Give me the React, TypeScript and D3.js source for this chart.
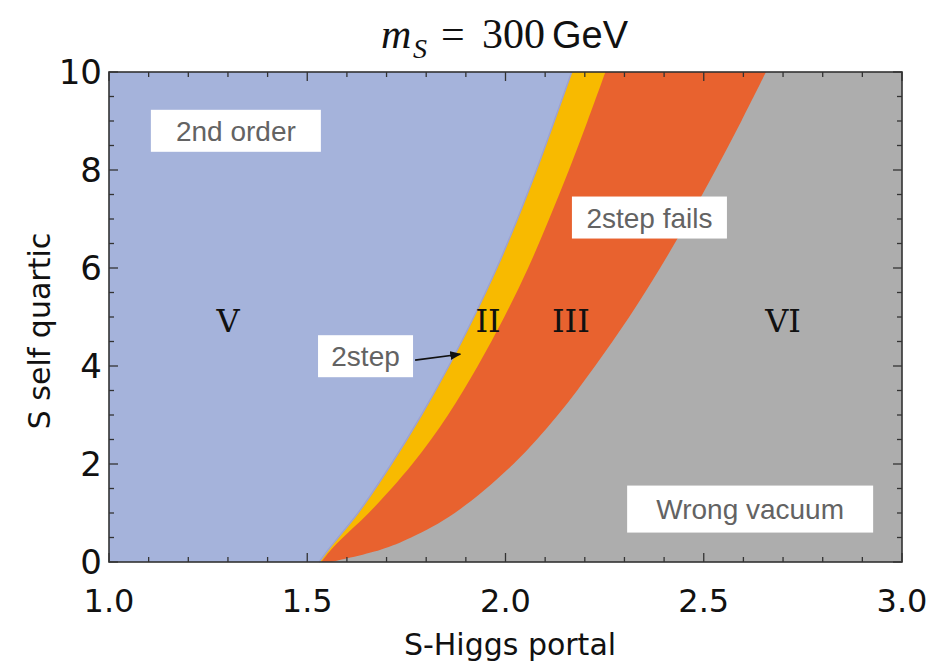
import React, { useEffect, useRef } from "react";
import * as d3 from "d3";

// phase boundaries: S-Higgs portal value where each region starts, per S self quartic value
const lambdaS = [0, 0.25, 0.5, 1, 2, 3, 4, 5, 6, 7, 8, 9, 10];
const twoStepStart = [1.53, 1.553, 1.578, 1.628, 1.712, 1.788, 1.857, 1.92, 1.978, 2.03, 2.078, 2.123, 2.167];
const twoStepFailStart = [1.535, 1.56, 1.59, 1.655, 1.765, 1.855, 1.93, 1.997, 2.057, 2.11, 2.16, 2.207, 2.252];
const wrongVacuumStart = [1.56, 1.685, 1.762, 1.872, 2.02, 2.132, 2.226, 2.312, 2.39, 2.462, 2.53, 2.595, 2.657];

const xTickLabels = [1.0, 1.5, 2.0, 2.5, 3.0];
const yTickLabels = [0, 2, 4, 6, 8, 10];

const numerals = ["V", "II", "III", "VI"];
const numeralX = [1.3, 1.956, 2.165, 2.7];
const numeralY = 4.94;

const boxTexts = ["2nd order", "2step fails", "Wrong vacuum", "2step"];
const boxX = [1.32, 2.363, 2.617, 1.647];
const boxY = [8.8, 7.03, 1.08, 4.2];
const boxW = [170, 155, 246, 95];
const boxH = [42, 42, 47, 42];

const App = () => {
  const svgRef = useRef<SVGSVGElement>(null);

  useEffect(() => {
    const margin = { top: 72, right: 33, bottom: 102, left: 109 };
    const W = 935;
    const H = 664;
    const width = W - margin.left - margin.right;
    const height = H - margin.top - margin.bottom;

    const root = d3.select(svgRef.current);
    root.selectAll("*").remove();
    root.attr("width", W).attr("height", H);

    const svg = root.append("g").attr("transform", `translate(${margin.left},${margin.top})`);

    const x = d3.scaleLinear().domain([1, 3]).range([0, width]);
    const y = d3.scaleLinear().domain([0, 10]).range([height, 0]);

    const regions = [
      { edge: wrongVacuumStart, color: "#e8622f" },
      { edge: twoStepFailStart, color: "#f8ba00" },
      { edge: twoStepStart, color: "#a5b3db" },
    ];

    svg.append("rect").attr("width", width).attr("height", height).attr("fill", "#adadad");

    const area = (edge: number[]) =>
      d3
        .area<number>()
        .y((d) => y(d))
        .x0(x(1))
        .x1((d, i) => x(edge[i]))
        .curve(d3.curveCatmullRom.alpha(0.5))(lambdaS);

    regions.forEach((r) => {
      svg.append("path").attr("d", area(r.edge)).attr("fill", r.color);
    });

    // faint edge of the 2nd order region
    svg
      .append("path")
      .attr(
        "d",
        d3
          .line<number>()
          .y((d) => y(d))
          .x((d, i) => x(twoStepStart[i]))
          .curve(d3.curveCatmullRom.alpha(0.5))(lambdaS)
      )
      .attr("fill", "none")
      .attr("stroke", "#9da2d2")
      .attr("stroke-width", 1.5);

    // ticks on all four sides
    const tickColor = "#333";
    const xt = d3.range(10, 31).map((d) => d / 10);
    xt.forEach((t, i) => {
      const len = i % 5 === 0 ? 9 : 5;
      svg.append("line").attr("x1", x(t)).attr("x2", x(t)).attr("y1", height).attr("y2", height - len).attr("stroke", tickColor).attr("stroke-width", 1.3);
      svg.append("line").attr("x1", x(t)).attr("x2", x(t)).attr("y1", 0).attr("y2", len).attr("stroke", tickColor).attr("stroke-width", 1.3);
    });
    const yt = d3.range(0, 21).map((d) => d / 2);
    yt.forEach((t, i) => {
      const len = i % 4 === 0 ? 9 : 5;
      svg.append("line").attr("y1", y(t)).attr("y2", y(t)).attr("x1", 0).attr("x2", len).attr("stroke", tickColor).attr("stroke-width", 1.3);
      svg.append("line").attr("y1", y(t)).attr("y2", y(t)).attr("x1", width).attr("x2", width - len).attr("stroke", tickColor).attr("stroke-width", 1.3);
    });

    svg
      .append("rect")
      .attr("width", width)
      .attr("height", height)
      .attr("fill", "none")
      .attr("stroke", "#333")
      .attr("stroke-width", 1.6);

    // tick labels
    svg
      .selectAll(".xl")
      .data(xTickLabels)
      .enter()
      .append("text")
      .attr("x", (d) => x(d))
      .attr("y", height + 50)
      .attr("text-anchor", "middle")
      .attr("font-family", "DejaVu Sans")
      .attr("font-size", 32)
      .attr("fill", "#111")
      .text((d) => d.toFixed(1));

    svg
      .selectAll(".yl")
      .data(yTickLabels)
      .enter()
      .append("text")
      .attr("x", -7)
      .attr("y", (d) => y(d) + 12)
      .attr("text-anchor", "end")
      .attr("font-family", "DejaVu Sans")
      .attr("font-size", 34)
      .attr("fill", "#111")
      .text((d) => d);

    // axis titles
    root
      .append("text")
      .attr("x", 510)
      .attr("y", 655)
      .attr("text-anchor", "middle")
      .attr("font-family", "DejaVu Sans")
      .attr("font-size", 30)
      .attr("fill", "#111")
      .text("S-Higgs portal");

    root
      .append("text")
      .attr("transform", "translate(50,331) rotate(-90)")
      .attr("text-anchor", "middle")
      .attr("font-family", "DejaVu Sans")
      .attr("font-size", 30)
      .attr("fill", "#111")
      .text("S self quartic");

    // title
    const title = root.append("g").attr("fill", "#111");
    title.append("text").attr("x", 381).attr("y", 48).attr("font-family", "Liberation Serif").attr("font-style", "italic").attr("font-size", 42).text("m");
    title.append("text").attr("x", 413).attr("y", 58).attr("font-family", "Liberation Serif").attr("font-style", "italic").attr("font-size", 28).text("S");
    title.append("text").attr("x", 441).attr("y", 48).attr("font-family", "Liberation Serif").attr("font-size", 42).text("=");
    title.append("text").attr("x", 482).attr("y", 48).attr("font-family", "Liberation Serif").attr("font-size", 42).text("300");
    title.append("text").attr("x", 552).attr("y", 48).attr("font-family", "Liberation Sans").attr("font-size", 38).text("GeV");

    // region numerals
    numerals.forEach((n, i) => {
      svg
        .append("text")
        .attr("x", x(numeralX[i]))
        .attr("y", y(numeralY) + 12)
        .attr("text-anchor", "middle")
        .attr("font-family", "DejaVu Serif")
        .attr("font-size", 32)
        .attr("fill", "#111")
        .text(n);
    });

    // annotation boxes
    boxTexts.forEach((t, i) => {
      const cx = x(boxX[i]);
      const cy = y(boxY[i]);
      svg
        .append("rect")
        .attr("x", cx - boxW[i] / 2)
        .attr("y", cy - boxH[i] / 2)
        .attr("width", boxW[i])
        .attr("height", boxH[i])
        .attr("fill", "#fff");
      svg
        .append("text")
        .attr("x", cx)
        .attr("y", cy + 10)
        .attr("text-anchor", "middle")
        .attr("font-family", "Liberation Sans")
        .attr("font-size", 28)
        .attr("fill", "#636363")
        .text(t);
    });

    // arrow to the 2step sliver
    root
      .append("defs")
      .append("marker")
      .attr("id", "head")
      .attr("viewBox", "0 0 10 10")
      .attr("refX", 9)
      .attr("refY", 5)
      .attr("markerWidth", 7)
      .attr("markerHeight", 7)
      .attr("orient", "auto")
      .append("path")
      .attr("d", "M0,1 L10,5 L0,9 Z")
      .attr("fill", "#111");

    svg
      .append("line")
      .attr("x1", x(1.772))
      .attr("y1", y(4.12))
      .attr("x2", x(1.886))
      .attr("y2", y(4.24))
      .attr("stroke", "#111")
      .attr("stroke-width", 1.6)
      .attr("marker-end", "url(#head)");
  }, []);

  return <svg ref={svgRef} style={{ position: "absolute", left: 0, top: 0 }}></svg>;
};

export default App;
